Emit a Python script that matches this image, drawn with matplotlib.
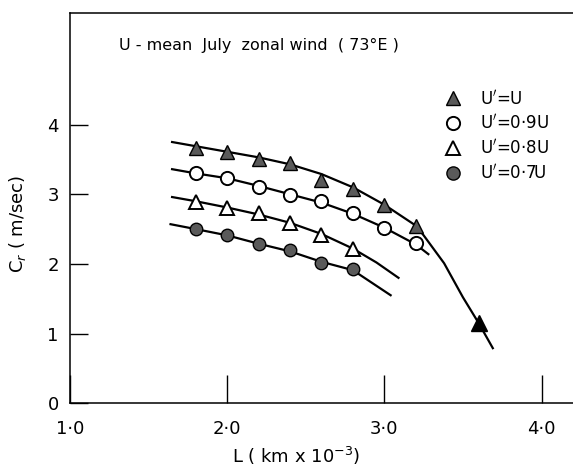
import matplotlib
matplotlib.use('Agg')
import matplotlib.pyplot as plt
from matplotlib.lines import Line2D

# wavelength L (km x 10^-3) at the computed points
L_pts = [1.8, 2.0, 2.2, 2.4, 2.6, 2.8, 3.0, 3.2]
L_pts_short = [1.8, 2.0, 2.2, 2.4, 2.6, 2.8]

# phase speed Cr (m/sec)
cr_u = [3.66, 3.61, 3.51, 3.45, 3.20, 3.07, 2.85, 2.54]
cr_09u = [3.30, 3.23, 3.10, 2.99, 2.90, 2.73, 2.51, 2.30]
cr_08u = [2.89, 2.80, 2.73, 2.59, 2.41, 2.21]
cr_07u = [2.50, 2.41, 2.28, 2.20, 2.01, 1.93]

# single extra point on the U'=U curve
L_extra = [3.6]
cr_extra = [1.15]

# hand-drawn smooth curves through the points
curve_u_L = [1.65, 1.8, 2.0, 2.2, 2.4, 2.6, 2.8, 3.0, 3.2, 3.25, 3.38, 3.5, 3.6, 3.69]
curve_u_cr = [3.75, 3.69, 3.61, 3.53, 3.43, 3.29, 3.10, 2.85, 2.55, 2.41, 2.01, 1.52, 1.15, 0.79]
curve_09u_L = [1.65, 1.8, 2.0, 2.2, 2.4, 2.6, 2.8, 3.0, 3.2, 3.28]
curve_09u_cr = [3.36, 3.30, 3.23, 3.12, 3.00, 2.88, 2.72, 2.52, 2.28, 2.14]
curve_08u_L = [1.65, 1.8, 2.0, 2.2, 2.4, 2.6, 2.8, 2.95, 3.09]
curve_08u_cr = [2.96, 2.90, 2.81, 2.71, 2.59, 2.43, 2.22, 2.02, 1.80]
curve_07u_L = [1.64, 1.8, 2.0, 2.2, 2.4, 2.6, 2.8, 3.04]
curve_07u_cr = [2.57, 2.50, 2.41, 2.29, 2.18, 2.03, 1.91, 1.55]

xticks = [1.0, 2.0, 3.0, 4.0]
xtick_labels = ['1·0', '2·0', '3·0', '4·0']
yticks = [0, 1, 2, 3, 4]
ytick_labels = ['0', '1', '2', '3', '4']
legend_labels = ["U$'$=U", "U$'$=0·9U", "U$'$=0·8U", "U$'$=0·7U"]

speckle = '#5a5a5a'

fig = plt.figure(figsize=(5.73, 4.71), dpi=100)
ax = fig.add_axes([0.122, 0.144, 0.878, 0.828])

lw = 1.6
ax.plot(curve_u_L, curve_u_cr, color='black', lw=lw)
ax.plot(curve_09u_L, curve_09u_cr, color='black', lw=lw)
ax.plot(curve_08u_L, curve_08u_cr, color='black', lw=lw)
ax.plot(curve_07u_L, curve_07u_cr, color='black', lw=lw)

ax.plot(L_pts, cr_u, ls='none', marker='^', ms=9.5, mfc=speckle, mec='black', mew=1.0)
ax.plot(L_extra, cr_extra, ls='none', marker='^', ms=11, mfc='black', mec='black')
ax.plot(L_pts, cr_09u, ls='none', marker='o', ms=9.5, mfc='white', mec='black', mew=1.4)
ax.plot(L_pts_short, cr_08u, ls='none', marker='^', ms=10.5, mfc='white', mec='black', mew=1.4)
ax.plot(L_pts_short, cr_07u, ls='none', marker='o', ms=9, mfc=speckle, mec='black', mew=1.0)

ax.set_xlim(1.0, 4.2)
ax.set_ylim(0, 5.6)
ax.set_xticks(xticks)
ax.set_xticklabels(xtick_labels)
ax.set_yticks(yticks)
ax.set_yticklabels(ytick_labels)
ax.tick_params(axis='x', direction='in', length=20, width=1.0, pad=12, labelsize=13)
ax.tick_params(axis='y', direction='in', length=13, width=1.0, pad=8, labelsize=13)
ax.spines['right'].set_visible(False)
for s in ['left', 'top', 'bottom']:
    ax.spines[s].set_linewidth(1.1)

ax.set_xlabel('L ( km x 10$^{-3}$)', fontsize=13)
ax.xaxis.set_label_coords(0.45, -0.108)
ax.set_ylabel('C$_r$ ( m/sec)', fontsize=13)
ax.yaxis.set_label_coords(-0.083, 0.46)

ax.text(1.31, 5.14, 'U - mean  July  zonal wind  ( 73°E )', fontsize=11.5, va='center')

handles = [
    Line2D([], [], ls='none', marker='^', ms=9.5, mfc=speckle, mec='black'),
    Line2D([], [], ls='none', marker='o', ms=9.5, mfc='white', mec='black', mew=1.4),
    Line2D([], [], ls='none', marker='^', ms=9.5, mfc='white', mec='black', mew=1.4),
    Line2D([], [], ls='none', marker='o', ms=9.5, mfc=speckle, mec='black'),
]
ax.legend(handles, legend_labels, loc='upper left', bbox_to_anchor=(0.716, 0.844),
          frameon=False, fontsize=12, handlelength=1.0, handletextpad=1.1,
          labelspacing=0.35)

fig.savefig('out.png', dpi=100)
